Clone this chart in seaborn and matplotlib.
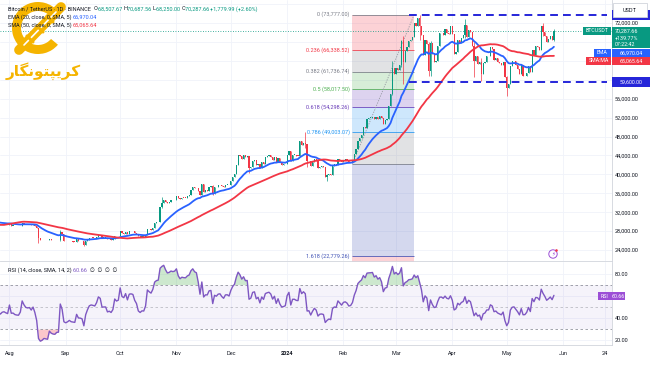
"""
BTC/USDT daily chart: candles, EMA/SMA, Fibonacci retracement and RSI pane.
"""

import numpy as np
import pandas as pd
import matplotlib
matplotlib.use("Agg")
import matplotlib.pyplot as plt
import matplotlib.dates as mdates
from matplotlib.patches import Rectangle, Wedge, Circle
import seaborn as sns

# daily closes, USDT (Jun/Jul 2023 only warm up the averages and the RSI)
jun_2023 = [25850, 25940, 25900, 25950, 25120, 25580, 26340, 26510, 26340, 26850,
            28320, 30030, 29890, 30690, 30550, 30470, 30270, 30690, 30080, 30450, 30470]
jul_2023 = [30590, 30620, 31160, 30770, 30510, 29890, 30350, 30290, 30170, 30410,
            30620, 30390, 31470, 30320, 30290, 30230, 30140, 29860, 29910, 29800,
            29910, 29800, 30080, 29180, 29230, 29350, 29210, 29320, 29350, 29280, 29230]
aug_2023 = [29700, 29170, 29180, 29080, 29050, 29040, 29180, 29770, 29570, 29430,
            29400, 29420, 29300, 29430, 29170, 28700, 26620, 26050, 26100, 26190,
            26120, 26050, 26430, 26160, 26050, 26010, 26090, 26100, 27720, 27300, 25940]
sep_2023 = [25800, 25870, 25970, 25820, 25780, 25750, 26240, 25910, 25900, 25840,
            25160, 25850, 26220, 26530, 26600, 26570, 26530, 26760, 27210, 27130,
            26570, 26580, 26580, 26260, 26300, 26220, 26370, 27020, 26910, 26970]
oct_2023 = [27990, 27500, 27430, 27790, 27410, 27930, 27960, 27930, 27590, 27390,
            26880, 26760, 26860, 26850, 27150, 28520, 28410, 28330, 28720, 29670,
            29910, 29990, 33070, 33900, 34500, 34160, 33910, 34090, 34540, 34500, 34650]
nov_2023 = [35420, 34940, 34730, 35080, 35050, 35040, 35420, 35620, 36700, 37310,
            37130, 37070, 36490, 35550, 37880, 36160, 36590, 36580, 37390, 37470,
            35800, 37420, 37290, 37720, 37790, 37450, 37240, 37830, 37850, 37720]
dec_2023 = [38690, 39470, 39970, 41980, 44080, 43780, 43290, 44170, 43720, 43790,
            41240, 41490, 42880, 43020, 41940, 42270, 41360, 42660, 42260, 43650,
            43860, 43990, 43740, 43020, 43600, 42520, 43440, 42580, 42070, 42140, 42280]
jan_2024 = [44180, 44950, 42850, 44150, 44160, 43970, 43930, 46970, 46120, 46650,
            46340, 42780, 42840, 41730, 42510, 43150, 42740, 41260, 41620, 41660,
            41550, 39510, 39850, 40080, 39930, 41800, 42110, 42030, 43300, 42940, 42580]
feb_2024 = [43080, 43190, 43000, 42580, 42660, 43090, 44340, 45290, 47130, 47750,
            48290, 49960, 49700, 51800, 51930, 51980, 52120, 51640, 52140, 51780,
            52270, 51850, 50730, 51570, 51730, 54480, 57050, 62500, 61130]
mar_2024 = [62390, 61990, 63110, 68250, 63720, 66070, 66850, 68300, 68480, 69000,
            72100, 71460, 73070, 71390, 69400, 65300, 68390, 67590, 61940, 67850,
            65500, 63800, 64040, 67210, 69880, 69990, 69450, 70740, 69870, 69640, 71280]
apr_2024 = [69650, 65460, 65960, 68500, 67830, 68900, 69360, 71620, 69140, 70590,
            70060, 67190, 63920, 64990, 63420, 63790, 61280, 63470, 63820, 64940,
            64960, 66840, 66410, 64280, 64500, 63770, 63460, 63120, 63840, 60670]
may_2024 = [58250, 59120, 62890, 63890, 64030, 63170, 62330, 61190, 63070, 60790,
            60830, 61480, 62940, 61580, 66270, 65230, 67050, 66940, 66280, 71450,
            70150, 69170, 67910, 68530, 69290, 68507.67, 70287.66]

# visible wicks: date -> (high, low)
wicks = {
    "2023-08-17": (28750, 25400), "2023-08-29": (28140, 25950),
    "2023-09-11": (25900, 24900), "2023-10-24": (35200, 32900),
    "2023-11-21": (37850, 35650), "2023-12-11": (43750, 40250),
    "2024-01-11": (48970, 45600), "2024-01-12": (46500, 41500),
    "2024-01-23": (40100, 38550), "2024-02-28": (64000, 56700),
    "2024-03-04": (68500, 62800), "2024-03-05": (69170, 59000),
    "2024-03-14": (73777, 68500), "2024-03-19": (68000, 60800),
    "2024-03-20": (68100, 60800), "2024-04-08": (72800, 68900),
    "2024-04-13": (67900, 60650), "2024-04-17": (64500, 59800),
    "2024-05-01": (60780, 56550), "2024-05-21": (71950, 69150),
    "2024-05-27": (70687.56, 68250.00),
}

# readings shown in the chart legend / price tags
ema_reading, sma_reading, rsi_reading = 66970.04, 65065.64, 60.66

fib_ratios = ["0", "0.236", "0.382", "0.5", "0.618", "0.786", "1", "1.618", "2.618"]
fib_values = [73777.00, 66338.52, 61736.74, 58017.50, 54298.26, 49003.07, 42258.00, 22779.26, -8739.74]
fib_colors = ["#787b86", "#f23645", "#787b86", "#4caf50", "#673ab7", "#2196f3", "#787b86", "#3f51b5", "#f23645"]
fib_dates = ["2024-02-06", "2024-03-11"]

range_levels = [73777.00, 59600.00]
range_dates = ["2024-03-08", "2024-06-25"]

tick_dates = ["2023-08-01", "2023-09-01", "2023-10-01", "2023-11-01", "2023-12-01", "2024-01-01",
              "2024-02-01", "2024-03-01", "2024-04-01", "2024-05-01", "2024-06-01", "2024-06-24"]
tick_labels = ["Aug", "Sep", "Oct", "Nov", "Dec", "2024", "Feb", "Mar", "Apr", "May", "Jun", "24"]

UP, DOWN = "#089981", "#f23645"
EMA_C, SMA_C, RSI_C = "#2962ff", "#f23645", "#7e57c2"
BOX_BLUE = "#2626d9"
TXT = "#131722"

# ---------------------------------------------------------------- data prep
closes = (jun_2023 + jul_2023 + aug_2023 + sep_2023 + oct_2023 + nov_2023 + dec_2023
          + jan_2024 + feb_2024 + mar_2024 + apr_2024 + may_2024)
dates = pd.date_range("2023-06-10", periods=len(closes), freq="D")
df = pd.DataFrame({"close": closes}, index=dates)
df["open"] = df["close"].shift(1).fillna(df["close"])
df["high"] = df[["open", "close"]].max(axis=1)
df["low"] = df[["open", "close"]].min(axis=1)
for d, (hi, lo) in wicks.items():
    df.loc[d, "high"] = max(hi, df.loc[d, "high"])
    df.loc[d, "low"] = min(lo, df.loc[d, "low"])

df["ema"] = df["close"].ewm(span=20, adjust=False).mean()
df["sma"] = df["close"].rolling(50, min_periods=1).mean()
delta = df["close"].diff()
gain = delta.clip(lower=0).ewm(alpha=1 / 14, adjust=False).mean()
loss = (-delta.clip(upper=0)).ewm(alpha=1 / 14, adjust=False).mean()
df["rsi"] = 100 - 100 / (1 + gain / loss)
df["x"] = mdates.date2num(df.index)
df = df.iloc[1:]

# ---------------------------------------------------------------- figure
sns.set_theme(style="white")
plt.rcParams["font.family"] = ["Roboto", "DejaVu Sans"]

W, H = 650, 365
fig = plt.figure(figsize=(6.5, 3.65), dpi=100)
ax = fig.add_axes([0, (H - 261) / H, 612 / W, 261 / H])
ax2 = fig.add_axes([0, (H - 345) / H, 612 / W, 83 / H], sharex=ax)

x0 = mdates.date2num(pd.Timestamp("2023-07-26 19:00"))
x1 = mdates.date2num(pd.Timestamp("2024-06-28 00:00"))
ax.set_xlim(x0, x1)
ax.set_ylim(21674, 76864)
ax2.set_ylim(15.5, 90.9)

for a in (ax, ax2):
    for s in ("top", "left"):
        a.spines[s].set_visible(False)
    for s in ("right", "bottom"):
        a.spines[s].set_color("#d1d4dc")
        a.spines[s].set_linewidth(0.6)
    a.grid(True, color="#f0f3fa", lw=0.6)
    a.set_axisbelow(True)
    a.yaxis.tick_right()
    a.tick_params(axis="both", length=0, labelsize=4, labelcolor=TXT, pad=2)

# price axis
pticks = list(range(24000, 76001, 4000))
ax.set_yticks(pticks)
ax.set_yticklabels(["" if p in (60000, 64000, 68000, 76000) else f"{p:,.2f}" for p in pticks])
ax2.set_yticks([20, 40, 60, 80])
ax2.set_yticklabels(["20.00", "40.00", "", "80.00"])
ax2.set_xticks(mdates.date2num(pd.to_datetime(tick_dates)))
ax2.set_xticklabels(tick_labels)
ax2.tick_params(axis="x", pad=4)
for lbl in ax2.get_xticklabels():
    if lbl.get_text() == "2024":
        lbl.set_fontweight("bold")
plt.setp(ax.get_xticklabels(), visible=False)

# fibonacci retracement
fx0, fx1 = mdates.date2num(pd.to_datetime(fib_dates))
for i in range(1, len(fib_values)):
    ax.fill_between([fx0, fx1], fib_values[i - 1], fib_values[i], color=fib_colors[i],
                    alpha=0.22, lw=0, zorder=0.6)
for i, (r, v, c) in enumerate(zip(fib_ratios, fib_values, fib_colors)):
    ax.hlines(v, fx0, fx1, color=c, lw=0.7, alpha=0.8, zorder=0.7)
    if r in ("1", "2.618"):
        continue
    ax.text(fx0 - 1.5, v, f"{r} ({v:,.2f})", color=c, fontsize=4, ha="right", va="center",
            zorder=0.8)
ax.plot([fx0, fx1], [fib_values[6], fib_values[0]], color="#9598a1", lw=0.6, ls=(0, (1.5, 1.5)),
        zorder=0.9)

# candles
up = df["close"] >= df["open"]
cols = np.where(up, UP, DOWN)
ax.vlines(df["x"], df["low"], df["high"], colors=cols, lw=0.5, zorder=2)
body = (df["close"] - df["open"]).abs().clip(lower=90)
ax.bar(df["x"], body, bottom=df[["open", "close"]].min(axis=1), width=0.66, color=cols,
       lw=0, zorder=2)

# averages
sns.lineplot(data=df, x="x", y="ema", ax=ax, color=EMA_C, lw=1.3, zorder=3)
sns.lineplot(data=df, x="x", y="sma", ax=ax, color=SMA_C, lw=1.3, zorder=3)

# range box lines
rx0, rx1 = mdates.date2num(pd.to_datetime(range_dates))
for lv in range_levels:
    ax.hlines(lv, rx0, rx1, color=BOX_BLUE, lw=1.4, ls=(0, (4, 2.6)), zorder=4)

# last price line
ax.axhline(df["close"].iloc[-1], color=UP, lw=0.6, ls=(0, (1, 2)), zorder=1)
ax.set_xlabel("")
ax.set_ylabel("")

# RSI pane
ax2.axhspan(30, 70, color=RSI_C, alpha=0.07, lw=0)
for lv, a in ((70, 0.8), (50, 0.45), (30, 0.8)):
    ax2.axhline(lv, color="#787b86", lw=0.6, ls=(0, (3, 3)), alpha=a)
rx = df["x"].to_numpy()
rv = df["rsi"].to_numpy()
ax2.fill_between(rx, 70, rv, where=rv >= 70, interpolate=True, color="#4caf50", alpha=0.28, lw=0)
ax2.fill_between(rx, 30, rv, where=rv <= 30, interpolate=True, color="#f23645", alpha=0.28, lw=0)
sns.lineplot(data=df, x="x", y="rsi", ax=ax2, color=RSI_C, lw=1.0)
ax2.set_xlabel("")
ax2.set_ylabel("")

# ---------------------------------------------------------------- overlay (pixel space)
ov = fig.add_axes([0, 0, 1, 1], zorder=10)
ov.set_xlim(0, W)
ov.set_ylim(H, 0)
ov.axis("off")
renderer = fig.canvas.get_renderer()


def chain(x, y, pieces, size=4):
    for s, c in pieces:
        t = ov.text(x, y, s, color=c, fontsize=size, ha="left", va="center")
        x += t.get_window_extent(renderer=renderer).width


last = df.iloc[-1]
chain(8, 9, [("Bitcoin / TetherUS · 1D · BINANCE  ", TXT), ("O", TXT), (f"{last['open']:,.2f} ", UP),
             ("H", TXT), (f"{last['high']:,.2f} ", UP), ("L", TXT), (f"{last['low']:,.2f} ", UP),
             ("C", TXT), (f"{last['close']:,.2f} ", UP),
             (f"+{last['close'] - last['open']:,.2f} (+2.60%)", UP)])
chain(8, 17, [("EMA (20, close, 0, SMA, 5) ", TXT), (f"{ema_reading:,.2f}", EMA_C)])
chain(8, 25, [("SMA (50, close, 0, SMA, 5) ", TXT), (f"{sma_reading:,.2f}", SMA_C)])
chain(8, 270, [("RSI (14, close, SMA, 14, 2) ", TXT), (f"{rsi_reading:.2f}  ", RSI_C),
               ("∅  ∅  ∅  ∅", TXT)])


def tag(x, y, w, h, text, color, size=3.8):
    ov.add_patch(Rectangle((x, y), w, h, color=color, lw=0))
    ov.text(x + w / 2, y + h / 2, text, color="white", fontsize=size, ha="center", va="center")


# right-side tags
ov.add_patch(Rectangle((612, 10), 38, 9.5, color=BOX_BLUE, lw=0))
ov.add_patch(Rectangle((613, 3), 34, 14, facecolor="white", edgecolor="#d1d4dc", lw=0.6))
ov.text(630, 10, "USDT", color=TXT, fontsize=4, ha="center", va="center")
tag(583, 27, 28, 8, "BTCUSDT", UP)
ov.add_patch(Rectangle((612, 27), 38, 21, color=UP, lw=0))
for yy, s in ((31, f"{last['close']:,.2f}"), (38, "+139.77%"), (44.5, "07:22:42")):
    ov.text(615, yy, s, color="white", fontsize=3.9, ha="left", va="center")
tag(594, 49, 17, 8, "EMA", EMA_C)
tag(612, 49, 38, 8, f"{ema_reading:,.2f}", EMA_C)
tag(586, 57, 25, 8, "SMA:MA", SMA_C)
tag(612, 57, 38, 8, f"{sma_reading:,.2f}", SMA_C)
tag(612, 77, 38, 9.5, f"{range_levels[1]:,.2f}", BOX_BLUE)
tag(598, 292, 13, 8, "RSI", "#9c4fd6")
tag(611, 292, 14, 8, f"{rsi_reading:.2f}", "#9c4fd6")

# small alert icon
ov.add_patch(Circle((553, 254), 4.2, facecolor="white", edgecolor="#9c4fd6", lw=0.7))
ov.text(553, 254.5, "⚡", color="#9c4fd6", fontsize=4, ha="center", va="center",
        family=["DejaVu Sans"])
ov.add_patch(Circle((556.5, 250.5), 1.3, color="#f23645", lw=0))

# logo
GOLD = "#f5b400"
ov.add_patch(Wedge((38, 28), 26, 40, 320, width=9, color=GOLD, lw=0))
ov.plot([19, 61], [50, 7], color=GOLD, lw=7, solid_capstyle="round")
ov.plot([24, 56], [45, 12], color="white", lw=1.2)
for cx, cy in ((30, 39), (40, 29), (50, 19)):
    ov.plot([cx - 3, cx + 3], [cy - 3, cy + 3], color=GOLD, lw=2.2)
logo_text = "\uFEAD\uFE8E\uFB95\uFEE7\uFEEE\uFE98\uFB59\uFBFE\uFEAE\uFB90"
ov.text(43, 71, logo_text, color=GOLD, fontsize=11, fontweight="bold", ha="center",
        va="center", family=["DejaVu Sans"])

fig.savefig("out.png", dpi=100)
